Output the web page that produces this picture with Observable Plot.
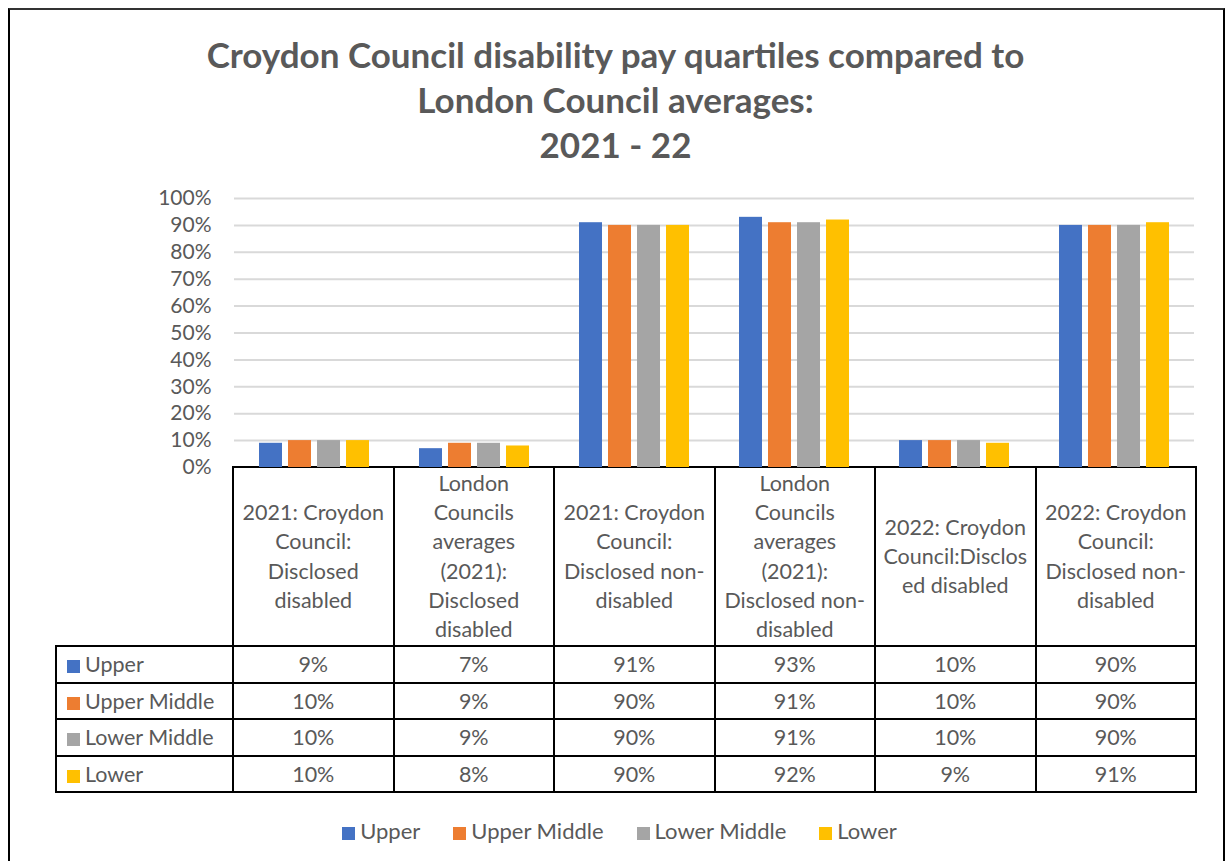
<!DOCTYPE html>
<html>
<head>
<meta charset="utf-8">
<script src="https://cdn.jsdelivr.net/npm/d3@7"></script>
<script src="https://cdn.jsdelivr.net/npm/@observablehq/plot@0.6"></script>
<style>
  html, body { margin: 0; padding: 0; background: #fff; }
  body { width: 1231px; height: 861px; overflow: hidden; position: relative; font-family: Lato, "Open Sans", sans-serif; color: #595959; }
  #frame { position: absolute; left: 8px; top: 8px; width: 1217px; height: 900px; box-sizing: border-box; border: 2px solid #000; border-top-color: #333; }
  #title { position: absolute; left: 0; width: 1231px; top: 32px; text-align: center; font-weight: bold; font-size: 35px; line-height: 45px; color: #595959; }
  #tbl { position: absolute; left: 55px; top: 466px; border-collapse: collapse; table-layout: fixed; font-size: 21.5px; color: #595959; }
  #tbl td, #tbl th { border: 2px solid #000; padding: 0; text-align: center; font-weight: normal; }
  #tbl th { height: 177px; white-space: pre-line; line-height: 29.3px; vertical-align: middle; }
  #tbl th.blank { border-top: none; border-left: none; }
  #tbl td { height: 34.5px; line-height: 34.5px; }
  #tbl td.rowhead { text-align: left; padding-left: 10px; white-space: nowrap; }
  .sw { display: inline-block; width: 13px; height: 13px; margin-right: 5px; vertical-align: -1px; }
  #legend { position: absolute; left: 0; width: 1239px; top: 817px; display: flex; justify-content: center; gap: 33px; font-size: 22px; line-height: 28px; color: #595959; }
  #legend span.item { white-space: nowrap; }
  #chartwrap { position: absolute; left: 0; top: 0; z-index: 2; pointer-events: none; }
</style>
</head>
<body>
<div id="frame"></div>
<div id="title"></div>
<table id="tbl"></table>
<div id="legend"></div>
<div id="chartwrap"></div>
<script>
// ---- Data ----
const titleLines = ["Croydon Council disability pay quartiles compared to", "London Council averages:", "2021 - 22"];
const categories = [
  "2021: Croydon\nCouncil:\nDisclosed\ndisabled",
  "London\nCouncils\naverages\n(2021):\nDisclosed\ndisabled",
  "2021: Croydon\nCouncil:\nDisclosed non-\ndisabled",
  "London\nCouncils\naverages\n(2021):\nDisclosed non-\ndisabled",
  "2022: Croydon\nCouncil:Disclos\ned disabled",
  "2022: Croydon\nCouncil:\nDisclosed non-\ndisabled"
];
const quartiles = ["Upper", "Upper Middle", "Lower Middle", "Lower"];
const colors = ["#4472C4", "#ED7D31", "#A5A5A5", "#FFC000"];
const upper       = [0.09, 0.07, 0.91, 0.93, 0.10, 0.90];
const upperMiddle = [0.10, 0.09, 0.90, 0.91, 0.10, 0.90];
const lowerMiddle = [0.10, 0.09, 0.90, 0.91, 0.10, 0.90];
const lower       = [0.10, 0.08, 0.90, 0.92, 0.09, 0.91];
const yTicks = [0, 0.1, 0.2, 0.3, 0.4, 0.5, 0.6, 0.7, 0.8, 0.9, 1.0];

const series = [upper, upperMiddle, lowerMiddle, lower];
const data = [];
categories.forEach((c, i) => quartiles.forEach((q, j) => data.push({category: c, quartile: q, value: series[j][i]})));
const fmt = d3.format(".0%");

// ---- Title ----
document.getElementById("title").innerHTML = titleLines.map(t => `<div>${t}</div>`).join("");

// ---- Chart ----
const chart = Plot.plot({
  width: 1231,
  height: 485,
  marginTop: 198,
  marginBottom: 18,
  marginLeft: 232,
  marginRight: 36,
  style: {fontFamily: "Lato, 'Open Sans', sans-serif", fontSize: "21px", color: "#595959", background: "transparent", overflow: "visible"},
  fx: {domain: categories, padding: 0, axis: null},
  x: {domain: quartiles, paddingInner: 0.22, paddingOuter: 0.83, axis: null},
  y: {domain: [0, 1], ticks: yTicks, tickFormat: fmt, tickSize: 0, tickPadding: 23, label: null},
  color: {domain: quartiles, range: colors},
  marks: [
    Plot.ruleY(yTicks.slice(1), {stroke: "#d9d9d9", strokeWidth: 2}),
    Plot.barY(data, {fx: "category", x: "quartile", y: "value", fill: "quartile", inset: 0})
  ]
});
document.getElementById("chartwrap").appendChild(chart);

// ---- Data table ----
const tbl = document.getElementById("tbl");
let html = `<colgroup><col style="width:177px">${categories.map(() => '<col style="width:160.5px">').join("")}</colgroup>`;
html += `<tr><th class="blank"></th>${categories.map(c => `<th>${c}</th>`).join("")}</tr>`;
quartiles.forEach((q, j) => {
  html += `<tr><td class="rowhead"><span class="sw" style="background:${colors[j]}"></span>${q}</td>${series[j].map(v => `<td>${fmt(v)}</td>`).join("")}</tr>`;
});
tbl.innerHTML = html;

// ---- Legend ----
document.getElementById("legend").innerHTML = quartiles.map((q, j) =>
  `<span class="item"><span class="sw" style="background:${colors[j]}"></span>${q}</span>`).join("");
</script>
</body>
</html>
